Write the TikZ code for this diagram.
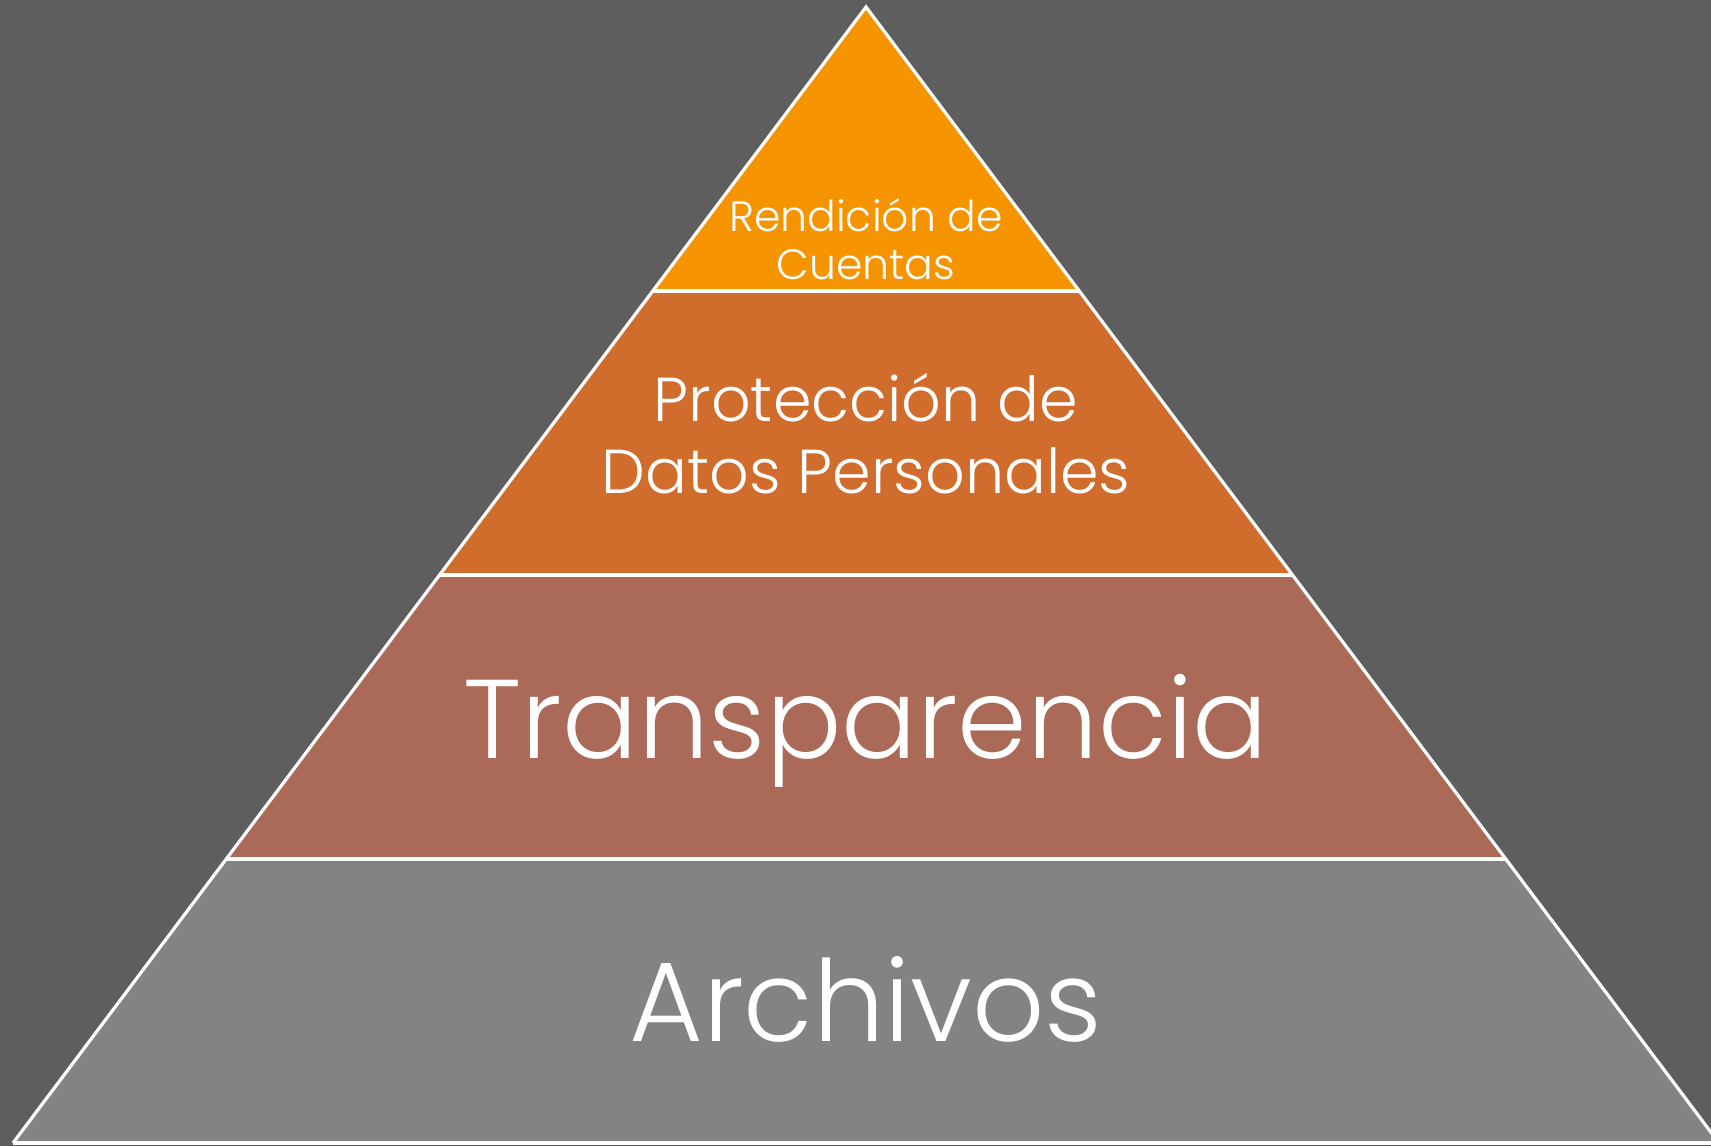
\documentclass[tikz,border=0pt]{standalone}
\usepackage{fontspec}
\setmainfont{Poppins}[UprightFont={* Light}]
\definecolor{bg}{HTML}{5E5E5E}
\definecolor{lvA}{HTML}{F69400}
\definecolor{lvB}{HTML}{D06D2D}
\definecolor{lvC}{HTML}{AB6957}
\definecolor{lvD}{HTML}{838383}
\tikzset{
  edge/.style={draw=white, line width=3.2pt, line join=miter},
  sep/.style={draw=white, line width=3.5pt},
  lbl/.style={text=white, anchor=base, inner sep=0pt, align=center},
}
\begin{document}
\begin{tikzpicture}[x=1pt,y=-1pt]
\fill[bg] (0,0) rectangle (1711,1146);
\useasboundingbox (0,0) rectangle (1711,1146);
% coordinates
\coordinate (apex) at (866,7);
\coordinate (l1) at (652.7,291); \coordinate (r1) at (1079.3,291);
\coordinate (l2) at (439.5,575); \coordinate (r2) at (1292.5,575);
\coordinate (l3) at (226,859);   \coordinate (r3) at (1506,859);
\coordinate (l4) at (13,1143);   \coordinate (r4) at (1719,1143);
% fills
\fill[lvA] (apex) -- (r1) -- (l1) -- cycle;
\fill[lvB] (l1) -- (r1) -- (r2) -- (l2) -- cycle;
\fill[lvC] (l2) -- (r2) -- (r3) -- (l3) -- cycle;
\fill[lvD] (l3) -- (r3) -- (r4) -- (l4) -- cycle;
% lines
\draw[sep] (l1) -- (r1);
\draw[sep] (l2) -- (r2);
\draw[sep] (l3) -- (r3);
\draw[edge] (l4) -- (apex) -- (r4);
\draw[sep] (l4) -- (r4);
% labels
\node[lbl, font=\fontsize{42.5}{48}\selectfont] (t1) at (866,231) {Rendición de};
\node[lbl, font=\fontsize{42.5}{48}\selectfont] (t1b) at (866,279) {Cuentas};
\node[lbl, font=\fontsize{62}{72}\selectfont] (t2) at (866,421) {Protección de};
\node[lbl, font=\fontsize{62}{72}\selectfont] (t2b) at (866,493) {Datos Personales};
\node[lbl, font=\fontsize{112}{120}\selectfont] (t3) at (866,758) {Transparencia};
\node[lbl, font=\fontsize{113}{120}\selectfont] (t4) at (866,1041) {Archivos};
\end{tikzpicture}
\end{document}
